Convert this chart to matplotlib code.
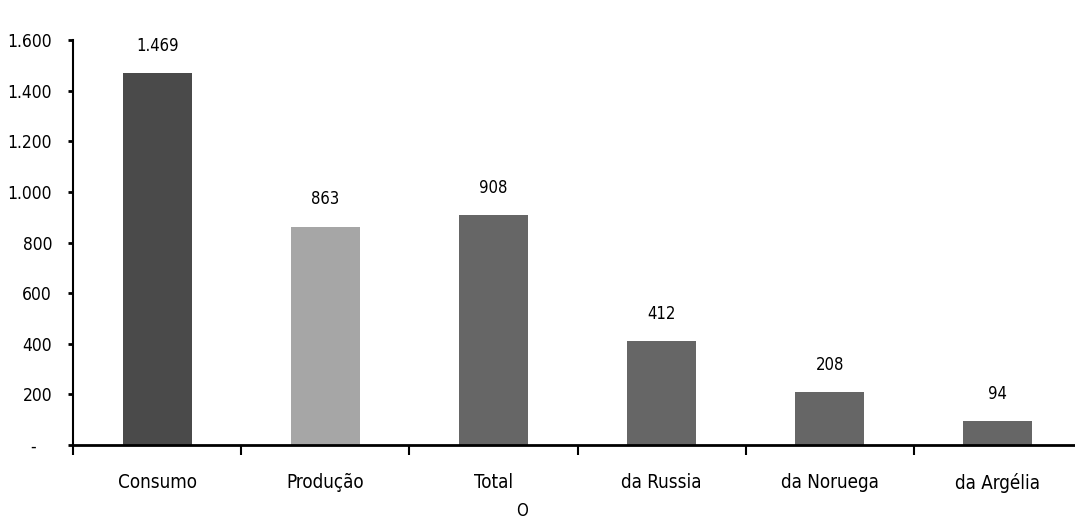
import matplotlib
matplotlib.use("Agg")
import matplotlib.pyplot as plt
from matplotlib.ticker import FixedLocator

plt.rcParams['font.family'] = ['Liberation Sans Narrow', 'DejaVu Sans']
plt.rcParams['font.stretch'] = 'condensed'

# dados
categorias = ['Consumo', 'Produção', 'Total', 'da Russia', 'da Noruega', 'da Argélia']
valores = [1469, 863, 908, 412, 208, 94]
cores = ['#4a4a4a', '#a6a6a6', '#666666', '#666666', '#666666', '#666666']
y_ticks = [0, 200, 400, 600, 800, 1000, 1200, 1400, 1600]


def fmt_pt(v):
    # separador de milhar em português, zero vira traço
    if v == 0:
        return '-   '
    return '{:,}'.format(v).replace(',', '.')


fig = plt.figure(figsize=(10.75, 5.19), dpi=100)
ax = fig.add_axes([73 / 1075, 74 / 519, 1009 / 1075, 405 / 519])

x = list(range(len(categorias)))
ax.bar(x, valores, width=0.41, color=cores, zorder=2)

for xi, v in zip(x, valores):
    ax.annotate(fmt_pt(v), (xi, v), xytext=(0, 13), textcoords='offset points',
                ha='center', va='bottom', fontsize=12)

ax.set_xlim(-0.5, len(categorias) - 0.5)
ax.set_ylim(0, 1600)

ax.set_yticks(y_ticks)
ax.set_yticklabels([fmt_pt(v) for v in y_ticks])
ax.tick_params(axis='y', direction='out', length=3.6, width=2, pad=11.5, labelsize=12.5)

ax.set_xticks(x)
ax.set_xticklabels(categorias)
ax.tick_params(axis='x', which='major', length=0, pad=20, labelsize=13.5)
ax.xaxis.set_minor_locator(FixedLocator([i - 0.5 for i in range(len(categorias) + 1)]))
ax.tick_params(axis='x', which='minor', direction='out', length=7, width=1.5)

for s in ['top', 'right']:
    ax.spines[s].set_visible(False)
ax.spines['left'].set_linewidth(1.5)
ax.spines['bottom'].set_linewidth(2)

# letra quase cortada na borda inferior
fig.text(522 / 1075, 1 - 511 / 519, 'O', ha='center', va='center', fontsize=12)

fig.savefig('out.png', dpi=100, facecolor='white')
